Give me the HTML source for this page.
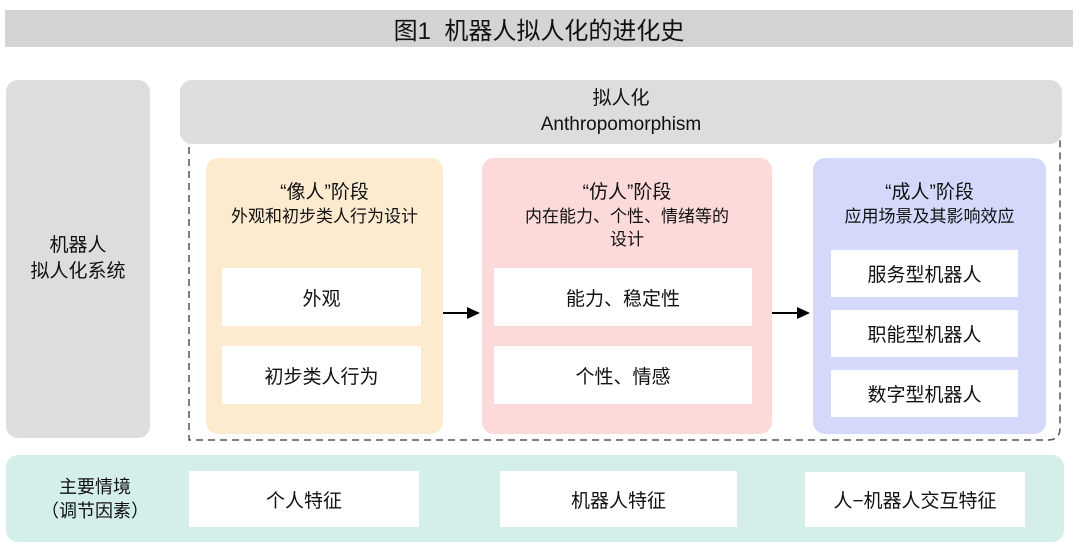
<!DOCTYPE html>
<html><head><meta charset="utf-8"><style>
body{margin:0;width:1080px;height:558px;background:#fff;position:relative;overflow:hidden;font-family:"Liberation Sans","Noto Sans CJK SC",sans-serif;color:#111}
.a{position:absolute;box-sizing:border-box}
.c{display:flex;align-items:center;justify-content:center;text-align:center}
.w{background:#fff;font-size:19px}
.t{position:absolute;left:0;right:0;text-align:center;font-size:19px;line-height:24px}
</style></head><body>
<div class="a c" style="left:5px;top:10px;width:1068px;height:37px;background:#d4d4d4;font-size:24px;color:#111">图1&nbsp; 机器人拟人化的进化史</div>
<div class="a c" style="left:6px;top:80px;width:144px;height:358px;background:#dcdddd;border-radius:12px;font-size:19px;line-height:26px">机器人<br>拟人化系统</div>
<svg class="a" style="left:0;top:0" width="1080" height="558">
<path d="M189,135 V440 H1048 Q1060,440 1060,428 V135" fill="none" stroke="#555" stroke-width="1.5" stroke-dasharray="7,5"/>
</svg>
<div class="a c" style="left:180px;top:80px;width:882px;height:64px;background:#dcdddd;border-radius:12px;font-size:19px;line-height:26px">拟人化<br>Anthropomorphism</div>

<div class="a" style="left:206px;top:158px;width:237px;height:276px;background:#fdebd0;border-radius:12px">
<div class="t" style="top:23px">“像人”阶段</div><div class="t" style="top:47px;font-size:17px">外观和初步类人行为设计</div>
<div class="a c w" style="left:16px;top:110px;width:199px;height:58px">外观</div>
<div class="a c w" style="left:16px;top:188px;width:199px;height:58px">初步类人行为</div>
</div>
<div class="a" style="left:482px;top:158px;width:290px;height:276px;background:#fcdada;border-radius:12px">
<div class="t" style="top:23px">“仿人”阶段</div><div class="t" style="top:47px;font-size:17px;line-height:23px">内在能力、个性、情绪等的<br>设计</div>
<div class="a c w" style="left:12px;top:110px;width:258px;height:58px">能力、稳定性</div>
<div class="a c w" style="left:12px;top:188px;width:258px;height:58px">个性、情感</div>
</div>
<div class="a" style="left:813px;top:158px;width:233px;height:276px;background:#d4d9fb;border-radius:12px">
<div class="t" style="top:23px">“成人”阶段</div><div class="t" style="top:47px;font-size:17px">应用场景及其影响效应</div>
<div class="a c w" style="left:18px;top:92px;width:187px;height:47px">服务型机器人</div>
<div class="a c w" style="left:18px;top:152px;width:187px;height:47px">职能型机器人</div>
<div class="a c w" style="left:18px;top:212px;width:187px;height:47px">数字型机器人</div>
</div>
<svg class="a" style="left:0;top:0" width="1080" height="558">
<line x1="443" y1="313" x2="468" y2="313" stroke="#000" stroke-width="2"/><polygon points="480,313 467,307 467,319" fill="#000"/>
<line x1="772" y1="313" x2="798" y2="313" stroke="#000" stroke-width="2"/><polygon points="810,313 797,307 797,319" fill="#000"/>
</svg>
<div class="a" style="left:6px;top:455px;width:1058px;height:87px;background:#d4efea;border-radius:12px"></div>
<div class="a c" style="left:6px;top:471px;width:178px;height:56px;font-size:18px;line-height:24px">主要情境<br>（调节因素）</div>
<div class="a c w" style="left:189px;top:471px;width:230px;height:56px">个人特征</div>
<div class="a c w" style="left:500px;top:471px;width:237px;height:56px">机器人特征</div>
<div class="a c w" style="left:805px;top:472px;width:220px;height:55px">人−机器人交互特征</div>
</body></html>
